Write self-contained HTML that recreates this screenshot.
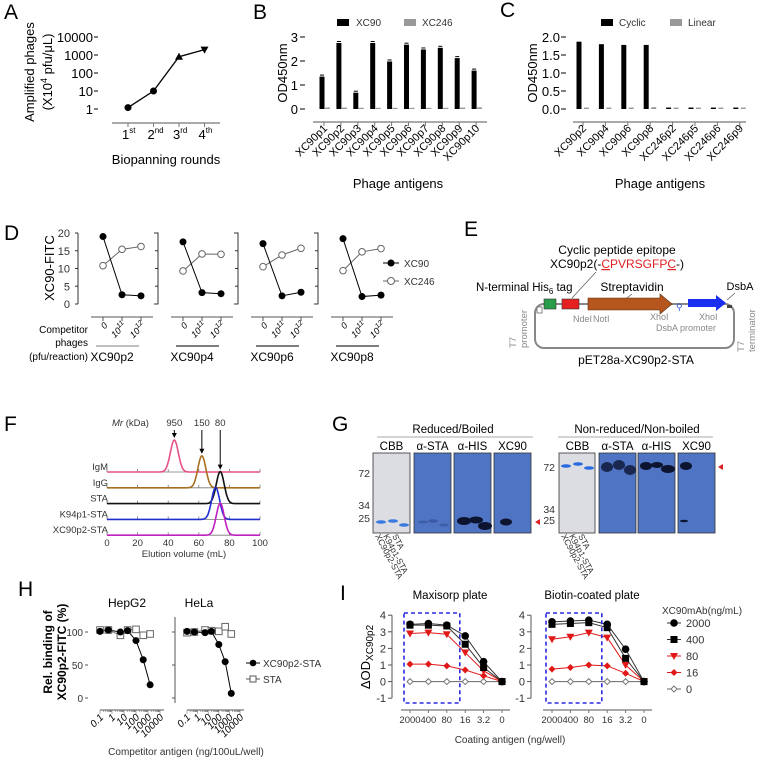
<!DOCTYPE html>
<html><head><meta charset="utf-8"><style>
html,body{margin:0;padding:0;background:#fff}
svg{display:block;font-family:"Liberation Sans",Arial,sans-serif}
</style></head><body>
<svg id="fig" width="758" height="761" viewBox="0 0 758 761" xmlns="http://www.w3.org/2000/svg">
<g font-size="21" fill="#000">
<text x="4" y="19">A</text>
<text x="253" y="19">B</text>
<text x="500" y="17">C</text>
<text x="4" y="240">D</text>
<text x="464" y="236">E</text>
<text x="4" y="431">F</text>
<text x="332" y="431">G</text>
<text x="18" y="596">H</text>
<text x="340" y="600">I</text>
</g>
<g font-size="13">
<text transform="translate(34,72) rotate(-90)" text-anchor="middle">Amplified phages</text>
<text transform="translate(52,72) rotate(-90)" text-anchor="middle">(X10<tspan font-size="9" dy="-5">4</tspan><tspan dy="5"> pfu/μL)</tspan></text>
<text x="166" y="164" text-anchor="middle">Biopanning rounds</text>
</g>
<g font-size="13">
<text transform="translate(287,73) rotate(-90)" text-anchor="middle">OD450nm</text>
<text x="398" y="188" text-anchor="middle">Phage antigens</text>
<rect x="337" y="19" width="12" height="7" fill="#000"/>
<text x="356" y="26" font-size="10" fill="#333">XC90</text>
<rect x="404" y="19" width="12" height="7" fill="#999"/>
<text x="422" y="26" font-size="10" fill="#333">XC246</text>
</g>
<g font-size="13">
<text transform="translate(537,73) rotate(-90)" text-anchor="middle">OD450nm</text>
<text x="660" y="188" text-anchor="middle">Phage antigens</text>
<rect x="601" y="19" width="12" height="7" fill="#000"/>
<text x="619" y="26" font-size="10" fill="#333">Cyclic</text>
<rect x="670" y="19" width="12" height="7" fill="#999"/>
<text x="688" y="26" font-size="10" fill="#333">Linear</text>
</g>
<g font-size="10">
<text transform="translate(54,268) rotate(-90)" text-anchor="middle" font-size="13">XC90-FITC</text>
<text x="88" y="333" text-anchor="end">Competitor</text>
<text x="88" y="346" text-anchor="end">phages</text>
<text x="88" y="360" text-anchor="end">(pfu/reaction)</text>
<circle cx="391" cy="263" r="3.5" fill="#000"/>
<line x1="383" y1="263" x2="399" y2="263" stroke="#000"/>
<text x="404" y="267" fill="#333">XC90</text>
<line x1="383" y1="281" x2="399" y2="281" stroke="#666"/>
<circle cx="391" cy="281" r="3.5" fill="#fff" stroke="#666"/>
<text x="404" y="285" fill="#333">XC246</text>
</g>
<g>
<text x="617" y="254" text-anchor="middle" font-size="12">Cyclic peptide epitope</text>
<text x="617" y="268" text-anchor="middle" font-size="12">XC90p2(-<tspan fill="#e02020" text-decoration="underline">C</tspan><tspan fill="#e02020">PVRSGFP</tspan><tspan fill="#e02020" text-decoration="underline">C</tspan>-)</text>
<line x1="596" y1="272" x2="572" y2="298" stroke="#555" stroke-width="0.7"/>
<text x="476" y="291" font-size="11.5">N-terminal His<tspan font-size="8" dy="3">6</tspan><tspan dy="-3"> tag</tspan></text>
<text x="632" y="291" text-anchor="middle" font-size="12">Streptavidin</text>
<line x1="632" y1="294" x2="622" y2="302" stroke="#555" stroke-width="0.7"/>
<text x="740" y="290" text-anchor="middle" font-size="11">DsbA</text>
<line x1="735" y1="293" x2="727" y2="300" stroke="#555" stroke-width="0.7"/>
<rect x="535" y="304" width="199" height="44" rx="9" fill="none" stroke="#888" stroke-width="2"/>
<rect x="537" y="307" width="5" height="6" fill="#fff" stroke="#666" stroke-width="0.8"/>
<rect x="544" y="299" width="12" height="10" fill="#2a9d4a" stroke="#333" stroke-width="0.6"/>
<rect x="562" y="299" width="17" height="10" fill="#e52020" stroke="#333" stroke-width="0.6"/>
<polygon points="588,298 660,298 660,294 672,304 660,314 660,310 588,310" fill="#b5561e" stroke="#5a2a0a" stroke-width="0.6"/>
<polygon points="688,299 716,299 716,295 726,303 716,311 716,307 688,307" fill="#1a2ef0"/>
<text x="676" y="310" font-size="9" fill="#3355dd">⚲</text>
<rect x="727" y="305" width="5" height="3" fill="#444"/>
<g font-size="9" fill="#888">
<text x="573" y="322">NdeI</text>
<text x="593" y="322">NotI</text>
<text x="650" y="320">XhoI</text>
<text x="656" y="331">DsbA promoter</text>
<text x="699" y="320">XhoI</text>
<text transform="translate(516,348) rotate(-90)" font-size="9.5">T7</text>
<text transform="translate(527,348) rotate(-90)" font-size="9.5">promoter</text>
<text transform="translate(744,352) rotate(-90)" font-size="9.5">T7</text>
<text transform="translate(755,352) rotate(-90)" font-size="9.5">terminator</text>
</g>
<text x="636" y="364" text-anchor="middle" font-size="12">pET28a-XC90p2-STA</text>
</g>
<g font-size="9.5" fill="#333">
<text x="112" y="426"><tspan font-style="italic">Mr</tspan> (kDa)</text>
<text x="184" y="557" text-anchor="middle">Elution volume (mL)</text>
</g>
<g id="gblots" font-size="11.5"></g>
<g font-size="12">
<text x="127" y="607" text-anchor="middle">HepG2</text>
<text x="199" y="607" text-anchor="middle">HeLa</text>
<text transform="translate(52,652) rotate(-90)" text-anchor="middle" font-weight="bold" font-size="12">Rel. binding of</text>
<text transform="translate(66,652) rotate(-90)" text-anchor="middle" font-weight="bold" font-size="12">XC90p2-FITC (%)</text>
<text x="186" y="755" text-anchor="middle" font-size="10" fill="#333">Competitor antigen (ng/100uL/well)</text>
<line x1="246" y1="663" x2="260" y2="663" stroke="#000"/>
<circle cx="253" cy="663" r="3.3" fill="#000"/>
<text x="263" y="667" font-size="10" fill="#333">XC90p2-STA</text>
<line x1="246" y1="679" x2="260" y2="679" stroke="#555"/>
<rect x="250" y="676" width="6" height="6" fill="#fff" stroke="#555"/>
<text x="263" y="683" font-size="10" fill="#333">STA</text>
</g>
<g font-size="11">
<text x="450" y="599" text-anchor="middle" font-size="11.5">Maxisorp plate</text>
<text x="592" y="599" text-anchor="middle" font-size="11.5">Biotin-coated plate</text>
<text transform="translate(370,657) rotate(-90)" text-anchor="middle" font-size="13">ΔOD<tspan font-size="10" dy="3">XC90p2</tspan></text>
<text x="510" y="743" text-anchor="middle" font-size="10" fill="#333">Coating antigen (ng/well)</text>
<text x="662" y="614" font-size="10" fill="#333">XC90mAb(ng/mL)</text>
</g>
<g id="dyn"></g>
</svg>
<script>
const aRounds = ['1st','2nd','3rd','4th'];
const aValues = [1.2, 10, 800, 2000];
const aTicks = [1, 10, 100, 1000, 10000];

const bCats = ['XC90p1','XC90p2','XC90p3','XC90p4','XC90p5','XC90p6','XC90p7','XC90p8','XC90p9','XC90p10'];
const bXC90 = [1.35, 2.75, 0.68, 2.75, 1.98, 2.68, 2.48, 2.55, 2.12, 1.6];
const bXC246 = [0.06, 0.06, 0.05, 0.05, 0.05, 0.05, 0.05, 0.05, 0.06, 0.07];
const bTicks = [0, 1, 2, 3];

const cCats = ['XC90p2','XC90p4','XC90p6','XC90p8','XC246p2','XC246p5','XC246p6','XC246p9'];
const cCyclic = [1.87, 1.8, 1.78, 1.78, 0.04, 0.04, 0.04, 0.04];
const cLinear = [0.04, 0.04, 0.04, 0.05, 0.04, 0.04, 0.04, 0.04];
const cTicks = [0, 0.5, 1.0, 1.5, 2.0];

const dGroups = ['XC90p2','XC90p4','XC90p6','XC90p8'];
const dDoses = ['0','11','12'];
const dXC90 = [[19, 2.6, 2.3], [17.5, 3.2, 2.9], [17, 2.3, 3.3], [18.4, 2.1, 2.5]];
const dXC246 = [[10.8, 15.4, 16.2], [9.3, 14.1, 14.0], [10.5, 13.8, 15.7], [9.4, 14.7, 15.6]];
const dTicks = [0, 5, 10, 15, 20];

const fSamples = ['IgM','IgG','STA','K94p1-STA','XC90p2-STA'];
const fPeakVol = [44, 62, 74, 71, 74];
const fMr = ['950','150','80'];
const fMrVol = [44, 62, 74];
const fTicks = [0, 20, 40, 60, 80, 100];

const hConc = [0.1, 0.5, 5, 20, 100, 400, 1500];
const hHepXC90 = [101, 103, 100, 102, 87, 58, 20];
const hHepSTA = [103, 103, 95, 103, 104, 95, 97];
const hHelaXC90 = [101, 100, 99, 101, 81, 55, 7];
const hHelaSTA = [99, 100, 103, 102, 101, 108, 97];
const hTicks = [0, 50, 100];
const hXTicks = ['0.1','1','10','100','1000','10000'];

const iCats = ['2000','400','80','16','3.2','0'];
const iSeries = ['2000','400','80','16','0'];
const iMaxi2000 = [3.45, 3.5, 3.4, 2.75, 1.2, 0];
const iMaxi400 = [3.4, 3.4, 3.35, 2.25, 0.85, 0];
const iMaxi80 = [2.9, 2.95, 2.85, 1.75, 0.65, 0];
const iMaxi16 = [1.05, 1.05, 0.95, 0.7, 0.35, 0];
const iMaxi0 = [0, 0, 0, 0, 0, 0];
const iBio2000 = [3.6, 3.65, 3.7, 3.45, 1.95, 0];
const iBio400 = [3.45, 3.5, 3.55, 3.25, 1.4, 0];
const iBio80 = [2.55, 2.7, 2.95, 2.65, 1.0, 0];
const iBio16 = [0.75, 0.85, 1.0, 0.95, 0.5, 0];
const iBio0 = [0, 0, 0, 0, 0, 0];
const iTicks = [-1, 0, 1, 2, 3, 4];

const NS = 'http://www.w3.org/2000/svg';
const root = document.getElementById('dyn');
function mk(tag, attrs, parent) {
  const e = document.createElementNS(NS, tag);
  for (const k in attrs) e.setAttribute(k, attrs[k]);
  (parent || root).appendChild(e);
  return e;
}
function txt(x, y, s, attrs) {
  const e = mk('text', Object.assign({x: x, y: y}, attrs || {}));
  e.textContent = s;
  return e;
}
let el;

// A
const xA = i => 128 + i * 25.5;
const yA = v => 109 - Math.log10(v) * 18;
aTicks.forEach(t => {
  el = txt(93, yA(t) + 5, String(t), {'font-size': 13, 'text-anchor': 'end'});
  
  
  mk('line', {x1: 94, y1: yA(t), x2: 98, y2: yA(t), stroke: '#000'});
});
el = mk('line', {x1: 112, y1: 123, x2: 220, y2: 123, stroke: '#777', 'stroke-width': 1.2});


aRounds.forEach((r, i) => {
  mk('line', {x1: xA(i), y1: 123, x2: xA(i), y2: 127, stroke: '#777'});
  el = mk('text', {x: xA(i) - 6, y: 139, 'font-size': 13});
  
  
  el.innerHTML = r[0] + '<tspan font-size="8" dy="-6">' + r.slice(1) + '</tspan>';
});
el = mk('polyline', {points: aValues.map((v, i) => xA(i) + ',' + yA(v)).join(' '), fill: 'none', stroke: '#000', 'stroke-width': 1.3});


aValues.forEach((v, i) => {
  const x = xA(i), y = yA(v);
  if (i < 2) el = mk('circle', {cx: x, cy: y, r: 3.5, fill: '#000'});
  else if (i === 2) el = mk('polygon', {points: `${x},${y-4} ${x-4},${y+3} ${x+4},${y+3}`, fill: '#000'});
  else el = mk('polygon', {points: `${x},${y+4} ${x-4},${y-3} ${x+4},${y-3}`, fill: '#000'});
  
  
});

// B
const xB = i => 322 + i * 16.9;
const yB = v => 109 - v * 24;
bTicks.forEach(t => {
  el = txt(298, yB(t) + 5, String(t), {'font-size': 13, 'text-anchor': 'end'});
  
  
  mk('line', {x1: 300, y1: yB(t), x2: 305, y2: yB(t), stroke: '#000'});
});
mk('line', {x1: 313, y1: 122, x2: 487, y2: 122, stroke: '#777', 'stroke-width': 1.2});
bCats.forEach((c, i) => {
  const x = xB(i);
  el = mk('rect', {x: x - 2.5, y: yB(bXC90[i]), width: 5, height: yB(0) - yB(bXC90[i]), fill: '#000'});
  
  
  mk('line', {x1: x - 2, y1: yB(bXC90[i]) - 1.5, x2: x + 2, y2: yB(bXC90[i]) - 1.5, stroke: '#000'});
  el = mk('rect', {x: x + 3, y: yB(bXC246[i]), width: 5, height: yB(0) - yB(bXC246[i]), fill: '#999'});
  
  
  mk('line', {x1: x + 2, y1: 122, x2: x + 2, y2: 126, stroke: '#777'});
  el = txt(0, 0, c, {'font-size': 11, 'text-anchor': 'end', transform: `translate(${x + 6},129) rotate(-45)`});
  
  
});

// C
const xC = i => 579 + i * 22.4;
const yC = v => 109 - v * 36;
cTicks.forEach(t => {
  el = txt(560, yC(t) + 5, t.toFixed(1), {'font-size': 13, 'text-anchor': 'end'});
  
  
  mk('line', {x1: 561, y1: yC(t), x2: 566, y2: yC(t), stroke: '#000'});
});
mk('line', {x1: 573, y1: 122, x2: 746, y2: 122, stroke: '#777', 'stroke-width': 1.2});
cCats.forEach((c, i) => {
  const x = xC(i);
  el = mk('rect', {x: x - 2.5, y: yC(cCyclic[i]), width: 5, height: yC(0) - yC(cCyclic[i]), fill: '#000'});
  
  
  el = mk('rect', {x: x + 5, y: yC(cLinear[i]), width: 5, height: yC(0) - yC(cLinear[i]), fill: '#999'});
  
  
  mk('line', {x1: x + 4, y1: 122, x2: x + 4, y2: 126, stroke: '#777'});
  el = txt(0, 0, c, {'font-size': 11, 'text-anchor': 'end', transform: `translate(${x + 8},129) rotate(-45)`});
  
  
});

// D
const yD = v => 304 - v * 3.55;
dTicks.forEach(t => {
  el = txt(70, yD(t) + 4, String(t), {'font-size': 11, 'text-anchor': 'end', fill: '#333'});
  
  
});
dGroups.forEach((g, gi) => {
  const ax = 78 + gi * 80;
  const xD = i => ax + 25 + i * 19;
  el = mk('path', {d: gi === 0 ? `M${ax},233 V304` : `M${ax - 4},233 H${ax} V304 H${ax - 4}`, fill: 'none', stroke: '#333', 'stroke-width': 1});
  
  
  dTicks.forEach(t => mk('line', {x1: ax - 3, y1: yD(t), x2: ax, y2: yD(t), stroke: '#333'}));
  mk('line', {x1: ax + 13, y1: 317, x2: ax + 75, y2: 317, stroke: '#555'});
  dDoses.forEach((d, i) => {
    mk('line', {x1: xD(i), y1: 317, x2: xD(i), y2: 321, stroke: '#555'});
    el = mk('text', {'font-size': 9, 'font-style': 'italic', 'text-anchor': 'end', transform: `translate(${xD(i) + 5},326) rotate(-45)`});
    
    
    el.innerHTML = i === 0 ? '0' : '10<tspan font-size="7" dy="-4">' + d + '</tspan>';
  });
  mk('line', {x1: ax + 18, y1: 346, x2: ax + 61, y2: 346, stroke: gi === 0 ? '#999' : '#333', 'stroke-width': 1.2});
  el = txt(ax + 34, 361, g, {'font-size': 12, 'text-anchor': 'middle'});
  
  
  el = mk('polyline', {points: dXC246[gi].map((v, i) => xD(i) + ',' + yD(v)).join(' '), fill: 'none', stroke: '#666'});
  
  
  el = mk('polyline', {points: dXC90[gi].map((v, i) => xD(i) + ',' + yD(v)).join(' '), fill: 'none', stroke: '#000'});
  
  
  dXC246[gi].forEach((v, i) => {
    el = mk('circle', {cx: xD(i), cy: yD(v), r: 3.3, fill: '#fff', stroke: '#666'});
    
    
  });
  dXC90[gi].forEach((v, i) => {
    el = mk('circle', {cx: xD(i), cy: yD(v), r: 3.5, fill: '#000'});
    
    
  });
});

// F
const xF = v => 107 + v * 1.53;
const fColors = ['#e8508a', '#a8701e', '#111', '#2030d0', '#c020c0'];
fSamples.forEach((s, k) => {
  const base = 472 + k * 15.8;
  el = txt(108, base - 2, s, {'font-size': 9.5, 'text-anchor': 'end', fill: '#333'});
  
  
  mk('line', {x1: 107, y1: base, x2: 260, y2: base, stroke: '#777', 'stroke-width': 0.8});
  fTicks.forEach(t => mk('line', {x1: xF(t), y1: base, x2: xF(t), y2: base - 3, stroke: '#777', 'stroke-width': 0.8}));
  let pts = [];
  for (let v = 0; v <= 100; v += 0.5) {
    const g = Math.exp(-Math.pow((v - fPeakVol[k]) / 2.6, 2) / 2);
    pts.push(xF(v).toFixed(1) + ',' + (base - 32 * g).toFixed(1));
  }
  el = mk('polyline', {points: pts.join(' '), fill: 'none', stroke: fColors[k], 'stroke-width': 1.6});
  
  
});
fTicks.forEach(t => {
  el = txt(xF(t), 546, String(t), {'font-size': 9.5, 'text-anchor': 'middle', fill: '#333'});
  
  
});
fMr.forEach((m, i) => {
  const x = xF(fMrVol[i]);
  el = txt(x, 426, m, {'font-size': 9.5, 'text-anchor': 'middle', fill: '#333'});
  
  
  const yEnd = 438 + i * 15.8;
  mk('line', {x1: x, y1: 430, x2: x, y2: yEnd - 3, stroke: '#000'});
  mk('polygon', {points: `${x - 2.5},${yEnd - 5} ${x + 2.5},${yEnd - 5} ${x},${yEnd}`, fill: '#000'});
});

// G
const gb = document.getElementById('gblots');
function blot(x, w, fill, name) {
  el = mk('rect', {x: x, y: 453, width: w, height: 80, fill: fill, stroke: '#333', 'stroke-width': 0.8}, gb);
  
  
}
function band(x, y, w, h, c) { mk('ellipse', {cx: x, cy: y, rx: w, ry: h, fill: c}, gb); }
const lanesHead = ['CBB', 'α-STA', 'α-HIS', 'XC90'];
el = txt(453, 433, 'Reduced/Boiled', {'text-anchor': 'middle'}); gb.appendChild(el);
 
mk('line', {x1: 377, y1: 437, x2: 533, y2: 437, stroke: '#aaa'}, gb);
const lX = [373, 414, 454, 494], rX = [559, 599, 638, 678];
lanesHead.forEach((h, i) => {
  el = txt(lX[i] + 18.5, 450, h, {'text-anchor': 'middle'}); gb.appendChild(el);
   
  el = txt(rX[i] + 18.5, 450, h, {'text-anchor': 'middle'}); gb.appendChild(el);
   
});
blot(373, 37, '#dcdde3', 'g-blot-cbb-reduced');
blot(414, 37, '#4f74c4', 'g-blot-sta-reduced');
blot(454, 37, '#4f74c4', 'g-blot-his-reduced');
blot(494, 37, '#4f74c4', 'g-blot-xc90-reduced');
band(381, 522, 5, 1.8, '#3a7ae0'); band(393, 521, 5, 1.8, '#3a7ae0'); band(404, 525, 5, 1.8, '#3a7ae0');
band(423, 522, 5, 1.5, '#3e5ea8'); band(433, 521, 5, 1.8, '#3a5aa8'); band(444, 525, 5, 1.5, '#3e5ea8');
band(464, 521, 7, 4, '#0c1430'); band(476, 520, 7, 3.5, '#0c1430'); band(485, 526, 7, 4, '#0c1430');
band(506, 522, 6, 3.5, '#0c1430');
[['72', 473], ['34', 505], ['25', 518]].forEach(m => {
  el = txt(370, m[1] + 4, m[0], {'text-anchor': 'end', 'font-size': 10.5, fill: '#333'}); gb.appendChild(el);
   
});
mk('polygon', {points: '535,522 540,519 540,525', fill: '#e02020'}, gb);
el = txt(637, 433, 'Non-reduced/Non-boiled', {'text-anchor': 'middle'}); gb.appendChild(el);
 
mk('line', {x1: 558, y1: 437, x2: 713, y2: 437, stroke: '#aaa'}, gb);
blot(559, 36, '#dcdde3', 'g-blot-cbb-nonreduced');
blot(599, 37, '#4f74c4', 'g-blot-sta-nonreduced');
blot(638, 37, '#4f74c4', 'g-blot-his-nonreduced');
blot(678, 37, '#4f74c4', 'g-blot-xc90-nonreduced');
band(566, 466, 5, 1.8, '#2a6ae0'); band(578, 464, 5, 1.8, '#2a6ae0'); band(589, 468, 5, 1.8, '#2a6ae0');
band(607, 467, 6, 5, '#1a2850'); band(619, 465, 6, 5, '#1a2850'); band(630, 470, 6, 5, '#1a2850');
band(646, 466, 6, 4, '#0c1430'); band(657, 465, 6, 3, '#0c1430'); band(668, 469, 7, 4, '#0c1430');
band(686, 466, 6, 4, '#0c1430'); band(684, 521, 4, 1.2, '#0c1430');
[['72', 467], ['34', 509], ['25', 520]].forEach(m => {
  el = txt(555, m[1] + 4, m[0], {'text-anchor': 'end', 'font-size': 10.5, fill: '#333'}); gb.appendChild(el);
   
});
mk('polygon', {points: '718,467 723,464 723,470', fill: '#e02020'}, gb);
[[373, 'XC90p2-STA'], [381, 'K94p1-STA'], [390, 'STA']].forEach(l => {
  [0, 186].forEach(dx => {
    el = txt(0, 0, l[1], {'font-size': 8.5, fill: '#333', transform: `translate(${l[0] + dx + 2},536) rotate(62)`}); gb.appendChild(el);
     
  });
});

// H
const yH = v => 698 - v * 0.66;
function hPanel(x0, x1, xc, sta, showAxis, name) {
  const xH = c => x0 + (Math.log10(c) + 1) * (x1 - x0) / 5;
  if (showAxis) {
    el = mk('line', {x1: x0 - 12, y1: 617, x2: x0 - 12, y2: 703, stroke: '#555'});
     
  }
  hTicks.forEach(t => mk('line', {x1: x0 - 15, y1: yH(t), x2: x0 - 12, y2: yH(t), stroke: '#555'}));
  mk('line', {x1: x0, y1: 710, x2: x1 + 4, y2: 710, stroke: '#777', 'stroke-width': 1.2});
  for (let d = -1; d <= 4; d++) for (let m = 1; m < 10; m++) {
    const xx = xH(m * Math.pow(10, d)); if (xx > x1 + 0.5) break;
    mk('line', {x1: xx, y1: 710, x2: xx, y2: m === 1 ? 714 : 712, stroke: '#777', 'stroke-width': 0.6});
  }
  hXTicks.forEach((t, i) => {
    el = txt(0, 0, t, {'font-size': 10, 'font-style': 'italic', 'text-anchor': 'end', transform: `translate(${xH(Math.pow(10, i - 1)) + 4},718) rotate(-45)`});
     
  });
  el = mk('polyline', {points: sta.map((v, i) => xH(hConc[i]) + ',' + yH(v)).join(' '), fill: 'none', stroke: '#777'});
   
  el = mk('polyline', {points: xc.map((v, i) => xH(hConc[i]) + ',' + yH(v)).join(' '), fill: 'none', stroke: '#000'});
   
  sta.forEach((v, i) => {
    el = mk('rect', {x: xH(hConc[i]) - 3.3, y: yH(v) - 3.3, width: 6.6, height: 6.6, fill: '#fff', stroke: '#666'});
     
  });
  xc.forEach((v, i) => {
    el = mk('circle', {cx: xH(hConc[i]), cy: yH(v), r: 3.5, fill: '#000'});
     
  });
}
hTicks.forEach(t => {
  el = txt(83, yH(t) + 4, String(t), {'font-size': 10, 'text-anchor': 'end', fill: '#333'});
   
});
hPanel(100, 160, hHepXC90, hHepSTA, false, 'h-hepg2');
hPanel(187, 240, hHelaXC90, hHelaSTA, true, 'h-hela');

// I
const yI = v => 681.6 - v * 16.6;
const iLine = ['#333', '#333', '#e01818', '#e01818', '#666'];
function iMarker(x, y, k, name) {
  if (k === 0) el = mk('circle', {cx: x, cy: y, r: 3.8, fill: '#000'});
  else if (k === 1) el = mk('rect', {x: x - 3.5, y: y - 3.5, width: 7, height: 7, fill: '#000'});
  else if (k === 2) el = mk('polygon', {points: `${x - 4},${y - 3} ${x + 4},${y - 3} ${x},${y + 4}`, fill: '#e01818'});
  else if (k === 3) el = mk('polygon', {points: `${x},${y - 3.5} ${x + 3.5},${y} ${x},${y + 3.5} ${x - 3.5},${y}`, fill: '#e01818'});
  else el = mk('polygon', {points: `${x},${y - 3} ${x + 3},${y} ${x},${y + 3} ${x - 3},${y}`, fill: '#fff', stroke: '#777'});
  
  
}
function iPanel(ax, c0, series, name) {
  const xI = i => c0 + i * 18.4;
  iTicks.forEach(t => {
    el = txt(ax - 6, yI(t) + 4, String(t), {'font-size': 11, 'text-anchor': 'end', fill: '#333'});
     
    mk('line', {x1: ax - 4, y1: yI(t), x2: ax, y2: yI(t), stroke: '#555'});
  });
  mk('line', {x1: ax, y1: yI(4), x2: ax, y2: yI(-1), stroke: '#555'});
  mk('line', {x1: c0 - 9, y1: 710, x2: xI(5) + 8, y2: 710, stroke: '#777', 'stroke-width': 1.2});
  iCats.forEach((c, i) => {
    mk('line', {x1: xI(i), y1: 710, x2: xI(i), y2: 713, stroke: '#777'});
    el = txt(xI(i), 723, c, {'font-size': 9.5, 'text-anchor': 'middle', fill: '#333'});
     
  });
  for (let k = series.length - 1; k >= 0; k--) {
    el = mk('polyline', {points: series[k].map((v, i) => xI(i) + ',' + yI(v)).join(' '), fill: 'none', stroke: iLine[k], 'stroke-width': 1});
     
    series[k].forEach((v, i) => iMarker(xI(i), yI(v), k, name + '-point-' + iSeries[k]));
  }
  el = mk('rect', {x: c0 - 6, y: 613, width: 2 * 18.4 + 19, height: 90, fill: 'none', stroke: '#2a2ae0', 'stroke-width': 1.6, 'stroke-dasharray': '4,3'});
   
}
iPanel(392, 410, [iMaxi2000, iMaxi400, iMaxi80, iMaxi16, iMaxi0], 'i-maxisorp');
iPanel(531, 552, [iBio2000, iBio400, iBio80, iBio16, iBio0], 'i-biotin');
iSeries.forEach((s, k) => {
  const y = 623 + k * 16.5;
  mk('line', {x1: 667, y1: y, x2: 681, y2: y, stroke: iLine[k]});
  iMarker(674, y, k, 'i-legend-marker');
  el = txt(686, y + 4, s, {'font-size': 11, fill: '#333'});
   
});
</script>
</body></html>
